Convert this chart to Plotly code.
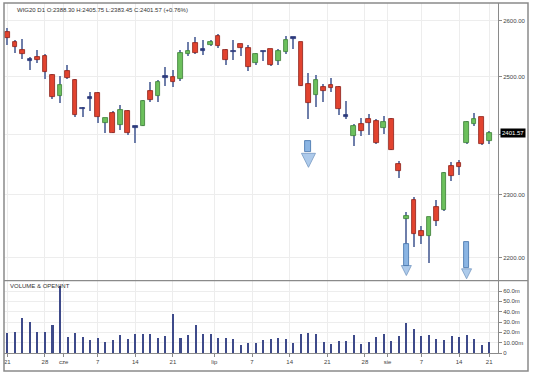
import numpy as np
import plotly.graph_objects as go

# ---------------- data ----------------
dates = [
    "2024-05-21", "2024-05-22", "2024-05-23", "2024-05-24", "2024-05-27", "2024-05-28", "2024-05-29", "2024-05-31",
    "2024-06-03", "2024-06-04", "2024-06-05", "2024-06-06", "2024-06-07", "2024-06-10", "2024-06-11", "2024-06-12",
    "2024-06-13", "2024-06-14", "2024-06-17", "2024-06-18", "2024-06-19", "2024-06-20", "2024-06-21", "2024-06-24",
    "2024-06-25", "2024-06-26", "2024-06-27", "2024-06-28",
    "2024-07-01", "2024-07-02", "2024-07-03", "2024-07-04", "2024-07-05", "2024-07-08", "2024-07-09", "2024-07-10",
    "2024-07-11", "2024-07-12", "2024-07-15", "2024-07-16", "2024-07-17", "2024-07-18", "2024-07-19", "2024-07-22",
    "2024-07-23", "2024-07-24", "2024-07-25", "2024-07-26", "2024-07-29", "2024-07-30", "2024-07-31",
    "2024-08-01", "2024-08-02", "2024-08-05", "2024-08-06", "2024-08-07", "2024-08-08", "2024-08-09", "2024-08-12",
    "2024-08-13", "2024-08-14", "2024-08-16", "2024-08-19", "2024-08-20", "2024-08-21",
]
open_ = [2579, 2561, 2547, 2529, 2535, 2537, 2503, 2465, 2509, 2494, 2444, 2461, 2471, 2419, 2436, 2416, 2440,
         2411, 2415, 2474, 2466, 2498, 2499, 2496, 2539, 2560, 2546, 2555, 2572, 2547, 2543, 2557, 2551, 2524,
         2543, 2548, 2528, 2544, 2567, 2561, 2487, 2467, 2482, 2485, 2482, 2430, 2398, 2418, 2426, 2423, 2410,
         2426, 2350, 2262, 2292, 2242, 2235, 2281, 2275, 2348, 2352, 2385, 2418, 2429, 2388.30]
high = [2586, 2564, 2567, 2535, 2547, 2539, 2504, 2500, 2521, 2495, 2447, 2472, 2472, 2428, 2439, 2450, 2441,
        2413, 2458, 2490, 2494, 2517, 2511, 2547, 2562, 2571, 2564, 2564, 2575, 2548, 2565, 2558, 2555, 2541,
        2546, 2549, 2548, 2573, 2570, 2562, 2506, 2503, 2487, 2498, 2483, 2457, 2417, 2428, 2435, 2426, 2432,
        2427, 2356, 2272, 2296, 2250, 2264, 2292, 2337, 2353, 2357, 2422, 2437, 2430, 2405.75]
low = [2556, 2542, 2531, 2511, 2524, 2496, 2461, 2453, 2496, 2430, 2429, 2439, 2419, 2402, 2402, 2408, 2399,
       2385, 2414, 2455, 2456, 2483, 2482, 2492, 2537, 2540, 2538, 2554, 2551, 2521, 2529, 2537, 2510, 2521,
       2528, 2519, 2521, 2539, 2548, 2483, 2426, 2447, 2456, 2472, 2433, 2426, 2381, 2398, 2399, 2384, 2400,
       2373, 2328, 2210, 2217, 2222, 2193, 2250, 2274, 2323, 2333, 2384, 2414, 2382, 2383.45]
close = [2568, 2552, 2540, 2528, 2529, 2507, 2464, 2485, 2497, 2433, 2443, 2462, 2429, 2428, 2402, 2442, 2402,
         2412, 2457, 2458, 2490, 2499, 2490, 2541, 2546, 2541, 2547, 2561, 2554, 2529, 2544, 2550, 2517, 2539,
         2544, 2520, 2546, 2565, 2568, 2484, 2454, 2494, 2475, 2479, 2444, 2431, 2415, 2406, 2419, 2385, 2421,
         2374, 2339, 2266, 2238, 2235, 2264, 2258, 2336, 2331, 2345, 2421, 2426, 2383.45, 2401.57]
volume_m = [20, 21, 34.6, 30.7, 20.6, 20.6, 27, 64.7, 15.7, 19.6, 16, 12.7, 14.7, 11.4, 13, 18, 14, 18.3, 18.3,
            18.3, 14.4, 16.7, 37.9, 14.7, 17.3, 27.5, 19, 19, 14.7, 14.4, 13.7, 8.5, 10, 10, 12.7, 13.4, 14.4,
            13.4, 10, 18.3, 19.6, 19, 11, 9.2, 12, 12, 17.3, 9.2, 10.8, 15.4, 19, 12, 16.7, 29, 23.2, 16.7, 17.6,
            13.7, 12.7, 16.7, 15.7, 17.6, 13.4, 8.5, 10.8]

tick_dates = ["2024-05-21", "2024-05-28", "2024-06-01", "2024-06-07", "2024-06-14", "2024-06-21", "2024-07-01",
              "2024-07-07", "2024-07-14", "2024-07-21", "2024-07-28", "2024-08-01", "2024-08-07", "2024-08-14",
              "2024-08-21"]
tick_text = ["21", "28", "cze", "7", "14", "21", "lip", "7", "14", "21", "28", "sie", "7", "14", "21"]

price_ticks = [2200, 2300, 2400, 2500, 2600]
price_ticktext = ["2200.00", "2300.00", "2400.00", "2500.00", "2600.00"]
vol_ticks = [0, 10, 20, 30, 40, 50, 60]
vol_ticktext = ["0", "10.00m", "20.0m", "30.0m", "40.0m", "50.0m", "60.0m"]

# signal arrows (trading-day date, shaft top price, head base price, tip price)
arrow_dates = ["2024-07-17", "2024-08-05", "2024-08-16"]
arrow_top = [2389, 2222, 2225]
arrow_neck = [2371, 2188, 2185]
arrow_tip = [2345, 2173, 2168]
arrow_head_px = [14, 10, 10]
arrow_shaft_w = [0.8, 0.6, 0.6]

header = "WIG20 D1 O:2388.30 H:2405.75 L:2383.45 C:2401.57 (+0.76%)"

# ---------------- derived ----------------
n = len(dates)
xi = list(range(n))
pos = {d: i for i, d in enumerate(dates)}


def tick_pos(d):
    if d in pos and not d.endswith("-01"):
        return pos[d]
    nxt = min(i for i, dd in enumerate(dates) if dd >= d)
    return nxt - 0.5


tick_vals = [tick_pos(d) for d in tick_dates]

o = np.array(open_, float)
c = np.array(close, float)
body_base = np.minimum(o, c)
body_h = np.maximum(np.abs(c - o), 2.5)
fill, edge = [], []
for oo, cc in zip(o, c):
    if abs(cc - oo) < 2:
        fill.append("#2c3a7c"); edge.append("#2c3a7c")
    elif cc > oo:
        fill.append("#6cc05c"); edge.append("#3b7d36")
    else:
        fill.append("#e2432f"); edge.append("#8c2018")

FONT = "Liberation Sans Narrow, Arial Narrow, Liberation Sans, sans-serif"
GRID = "#ededed"
AX = "#8a8a8a"

fig = go.Figure()
# wicks
fig.add_trace(go.Bar(x=xi, base=low, y=[h - l for h, l in zip(high, low)], width=0.15,
                     marker=dict(color="#6e7eaa", line=dict(width=0)), xaxis="x", yaxis="y", showlegend=False))
# bodies
fig.add_trace(go.Bar(x=xi, base=body_base, y=body_h, width=0.62,
                     marker=dict(color=fill, line=dict(color=edge, width=0.8)),
                     xaxis="x", yaxis="y", showlegend=False))
# arrows
ax_x = [pos[d] for d in arrow_dates]
fig.add_trace(go.Bar(x=ax_x, base=arrow_neck, y=[t - nk for t, nk in zip(arrow_top, arrow_neck)],
                     width=arrow_shaft_w,
                     marker=dict(color="#8bb5e3", line=dict(color="#3d6ea8", width=0.8)),
                     xaxis="x", yaxis="y", showlegend=False))
fig.add_trace(go.Scatter(x=ax_x, y=arrow_tip, mode="markers",
                         marker=dict(symbol="arrow-down", size=arrow_head_px, color="#8bb5e3",
                                     line=dict(color="#3d6ea8", width=0.8)),
                         xaxis="x", yaxis="y", showlegend=False))
# volume
fig.add_trace(go.Bar(x=xi, y=volume_m, width=0.27, marker=dict(color="#3e4a8a", line=dict(width=0)),
                     xaxis="x2", yaxis="y2", showlegend=False))

xr = [-0.44, 65.17]
xdom = [0, 0.9427]
fig.update_layout(
    width=536, height=384,
    margin=dict(l=4, r=8, t=3, b=13),
    paper_bgcolor="white", plot_bgcolor="white",
    barmode="overlay", bargap=0,
    font=dict(family=FONT, size=6, color="#333333"),
    xaxis=dict(domain=xdom, range=xr, anchor="y", tickmode="array", tickvals=tick_vals,
               showticklabels=False, showgrid=True, gridcolor=GRID, zeroline=False, ticks=""),
    yaxis=dict(domain=[0.2454, 1], type="log", range=[3.33548, 3.42038], side="right", anchor="x",
               tickmode="array", tickvals=price_ticks, ticktext=price_ticktext,
               showgrid=True, gridcolor=GRID, showline=True, linecolor=AX, linewidth=1,
               ticks="outside", ticklen=3, tickcolor=AX, tickfont=dict(size=6, family=FONT, color="#444")),
    xaxis2=dict(domain=xdom, range=xr, anchor="y2", tickmode="array", tickvals=tick_vals, ticktext=tick_text,
                showgrid=True, gridcolor=GRID, zeroline=False, showline=True, linecolor=AX, linewidth=1,
                ticks="outside", ticklen=3, tickcolor=AX, tickfont=dict(size=6, family=FONT, color="#444")),
    yaxis2=dict(domain=[0.0489, 0.2454], range=[0, 70], side="right", anchor="x2",
                tickmode="array", tickvals=vol_ticks, ticktext=vol_ticktext,
                showgrid=True, gridcolor=GRID, zeroline=False, showline=True, linecolor=AX, linewidth=1,
                ticks="outside", ticklen=3, tickcolor=AX, tickfont=dict(size=6, family=FONT, color="#444")),
    shapes=[
        dict(type="rect", xref="paper", yref="paper", x0=0, x1=1, y0=0, y1=1,
             line=dict(color="#8a8a8a", width=1.5)),
        dict(type="line", xref="paper", yref="paper", x0=0, x1=1, y0=0.2454, y1=0.2454,
             line=dict(color="#8a8a8a", width=1.2)),
    ],
    annotations=[
        dict(text=header, xref="paper", yref="paper", x=0.021, y=0.981, xanchor="left", yanchor="middle",
             showarrow=False, font=dict(size=6, family=FONT, color="#333")),
        dict(text="VOLUME & OPENINT", xref="paper", yref="paper", x=0.0076, y=0.231, xanchor="left",
             yanchor="middle", showarrow=False, font=dict(size=6, family=FONT, color="#333")),
        dict(text=f"{close[-1]:.2f}", xref="x domain", yref="y", x=1.004, y=float(np.log10(close[-1])),
             xanchor="left", yanchor="middle", showarrow=False, bgcolor="black", borderpad=1,
             font=dict(size=6, family=FONT, color="white")),
    ],
)

fig.write_html("out.html", config={"displayModeBar": False},
               post_script="document.body.style.margin='0px';")
